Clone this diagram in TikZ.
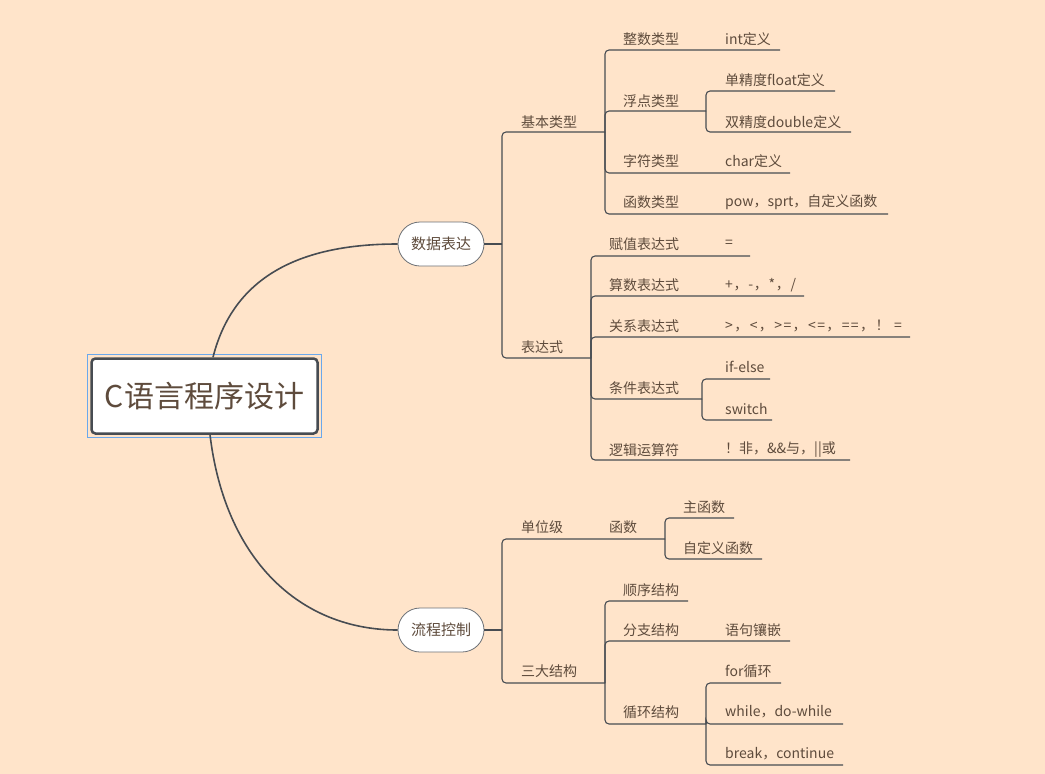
\documentclass[tikz,border=0pt]{standalone}
\usepackage{fontspec}
\setmainfont{Noto Sans CJK SC}
\newfontfamily\cjk{Noto Sans CJK SC}
\definecolor{bg}{HTML}{FFE4CA}
\definecolor{txt}{HTML}{5E4B3C}
\definecolor{ln}{HTML}{474C52}
\definecolor{sel}{HTML}{6AA8EC}
\begin{document}
\begin{tikzpicture}[x=1pt,y=-1pt,
  lbl/.style={anchor=west,inner sep=0pt,text=txt,font=\cjk\fontsize{14}{16}\selectfont},
  br/.style={draw=ln,line width=1.1pt,rounded corners=4pt},
  pill/.style={draw=ln!80,line width=0.8pt,fill=white,rounded corners=22pt,minimum width=86pt,minimum height=44pt,inner sep=0pt,text=txt,font=\cjk\fontsize{15}{17}\selectfont},
  rootbox/.style={draw=ln,line width=2.5pt,fill=white,rounded corners=4pt,minimum width=226pt,minimum height=75pt,inner sep=0pt,text=txt,font=\cjk\fontsize{30}{34}\selectfont},
  curve/.style={draw=ln,line width=1.6pt}]
\useasboundingbox[fill=bg] (0,0) rectangle (1045,774);

% root and main topics
\node[rootbox] (root) at (204.5,396) {C语言程序设计};
\draw[draw=sel,line width=1.2pt] ([shift={(-3,-3)}]root.north west) rectangle ([shift={(3,3)}]root.south east);
\node[pill] (data) at (441,244) {数据表达};
\node[pill] (flow) at (441,630) {流程控制};
\draw[curve] ([xshift=8.5pt]root.north) .. controls (235,270) and (310,244) .. (data.west);
\draw[curve] ([xshift=5.5pt]root.south) .. controls (225,560) and (300,630) .. (flow.west);

% junctions
\coordinate (jd) at (502,244);
\coordinate (jb) at (605,132);
\coordinate (jf) at (706,111);
\coordinate (jx) at (591,358);
\coordinate (jc) at (702,399);
\coordinate (jfl) at (502,630);
\coordinate (ju) at (665,539);
\coordinate (js) at (605,683);
\coordinate (jl) at (706,724);
% line ends
\coordinate (e1) at (780,50);
\coordinate (e2a) at (835,91);
\coordinate (e2b) at (851,132);
\coordinate (e3) at (790,173);
\coordinate (e4) at (888,214);
\coordinate (x1) at (750,256);
\coordinate (x2) at (804,296);
\coordinate (x3) at (910,337);
\coordinate (x4a) at (770,379);
\coordinate (x4b) at (772,420);
\coordinate (x5) at (850,460);
\coordinate (u1) at (734,518);
\coordinate (u2) at (762,559);
\coordinate (s1) at (688,601);
\coordinate (s2) at (790,641);
\coordinate (l1) at (781,683);
\coordinate (l2) at (843,724);
\coordinate (l3) at (843,765);

% connectors
\draw[br] (data.east) -- (jd);
\draw[br] (jd) |- (jb);
\draw[br] (jd) |- (jx);
\draw[br] (jb) |- (e1);
\draw[br] (jb) |- (jf);
\draw[br] (jf) |- (e2a);
\draw[br] (jf) |- (e2b);
\draw[br] (jb) |- (e3);
\draw[br] (jb) |- (e4);
\draw[br] (jx) |- (x1);
\draw[br] (jx) |- (x2);
\draw[br] (jx) |- (x3);
\draw[br] (jx) |- (jc);
\draw[br] (jc) |- (x4a);
\draw[br] (jc) |- (x4b);
\draw[br] (jx) |- (x5);
\draw[br] (flow.east) -- (jfl);
\draw[br] (jfl) |- (ju);
\draw[br] (jfl) |- (js);
\draw[br] (ju) |- (u1);
\draw[br] (ju) |- (u2);
\draw[br] (js) |- (s1);
\draw[br] (js) |- (s2);
\draw[br] (js) |- (jl);
\draw[br] (jl) |- (l1);
\draw[br] (jl) |- (l2);
\draw[br] (jl) |- (l3);

% labels
\node[lbl] (t-jb) at (521,122) {基本类型};
\node[lbl] (t-z) at (623,39) {整数类型};
\node[lbl] (t-zi) at (725,39) {int定义};
\node[lbl] (t-f) at (623,101) {浮点类型};
\node[lbl] (t-fa) at (725,80) {单精度float定义};
\node[lbl] (t-fb) at (725,122) {双精度double定义};
\node[lbl] (t-c) at (623,161) {字符类型};
\node[lbl] (t-ci) at (725,161) {char定义};
\node[lbl] (t-h) at (623,202) {函数类型};
\node[lbl] (t-hi) at (725,202) {pow，sprt，自定义函数};

\node[lbl] (t-bx) at (521,347) {表达式};
\node[lbl] (t-x1) at (609,244) {赋值表达式};
\node[lbl] (t-x1i) at (725,244) {=};
\node[lbl] (t-x2) at (609,285) {算数表达式};
\node[lbl] (t-x2i) at (725,285) {\addfontfeature{LetterSpace=5}+，-，*，/};
\node[lbl] (t-x3) at (609,326) {关系表达式};
\node[lbl] (t-x3i) at (725,326) {\addfontfeature{LetterSpace=10}>，<，>=，<=，==，！ =};
\node[lbl] (t-x4) at (609,388) {条件表达式};
\node[lbl] (t-x4a) at (725,367) {if-else};
\node[lbl] (t-x4b) at (725,409) {switch};
\node[lbl] (t-x5) at (609,450) {逻辑运算符};
\node[lbl] (t-x5i) at (725,450) {！非，\&\&与，||或};

\node[lbl] (t-u) at (521,527) {单位级};
\node[lbl] (t-uf) at (609,527) {函数};
\node[lbl] (t-u1) at (683,507) {主函数};
\node[lbl] (t-u2) at (683,548) {自定义函数};
\node[lbl] (t-s) at (521,671) {三大结构};
\node[lbl] (t-s1) at (623,590) {顺序结构};
\node[lbl] (t-s2) at (623,630) {分支结构};
\node[lbl] (t-s2i) at (725,630) {语句镶嵌};
\node[lbl] (t-s3) at (623,712) {循环结构};
\node[lbl] (t-l1) at (725,671) {for循环};
\node[lbl] (t-l2) at (725,712) {while，do-while};
\node[lbl] (t-l3) at (725,754) {break，continue};
\end{tikzpicture}
\end{document}
